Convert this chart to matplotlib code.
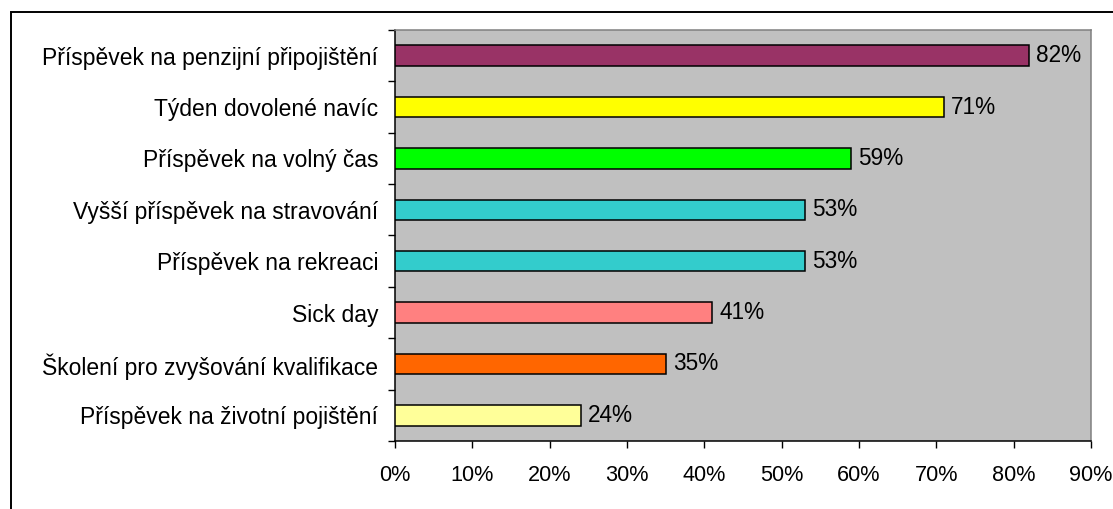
import matplotlib.pyplot as plt
from matplotlib.patches import Rectangle
from matplotlib.ticker import MultipleLocator, PercentFormatter

plt.rcParams['font.family'] = ['Liberation Sans', 'DejaVu Sans']

benefits = [
    "Příspěvek na penzijní připojištění",
    "Týden dovolené navíc",
    "Příspěvek na volný čas",
    "Vyšší příspěvek na stravování",
    "Příspěvek na rekreaci",
    "Sick day",
    "Školení pro zvyšování kvalifikace",
    "Příspěvek na životní pojištění",
]
shares = [82, 71, 59, 53, 53, 41, 35, 24]
colors = ["#993366", "#FFFF00", "#00FF00", "#33CCCC",
          "#33CCCC", "#FF8080", "#FF6600", "#FFFF99"]

FS = 16.3

fig = plt.figure(figsize=(11.13, 5.09), dpi=100)
ax = fig.add_axes([0.3549, 0.1336, 0.6253, 0.8075])

# chart frame, open to the right and bottom like the source sheet
fig.patches.append(Rectangle((11 / 1113, -0.1), 1.2, 1 - 12 / 509 + 0.1,
                             transform=fig.transFigure, fill=False,
                             edgecolor="black", linewidth=1.4))

ypos = list(range(len(benefits)))[::-1]
ax.barh(ypos, shares, height=0.4, color=colors, edgecolor="black",
        linewidth=1.1, zorder=3)
for y, v in zip(ypos, shares):
    ax.text(v + 0.9, y, f"{v}%", va="center", ha="left", fontsize=FS)

ax.set_facecolor("#C0C0C0")
ax.set_xlim(0, 90)
ax.set_ylim(-0.5, len(benefits) - 0.5)
ax.xaxis.set_major_locator(MultipleLocator(10))
ax.xaxis.set_major_formatter(PercentFormatter(decimals=0))

# category labels sit between tick marks placed at the bar boundaries
ax.set_yticks([y - 0.5 for y in range(len(benefits) + 1)])
ax.set_yticklabels([])
ax.set_yticks(ypos, benefits, minor=True)
ax.tick_params(axis="y", which="minor", length=0, pad=12, labelsize=16.5)
ax.tick_params(axis="y", which="major", length=5, width=1, direction="out")
ax.tick_params(axis="x", length=5, width=1, direction="out", pad=12,
               labelsize=15.6)

for side in ("left", "bottom"):
    ax.spines[side].set_color("black")
    ax.spines[side].set_linewidth(1.1)
for side in ("top", "right"):
    ax.spines[side].set_color("#808080")
    ax.spines[side].set_linewidth(1.1)

fig.savefig("out.png", dpi=100)
